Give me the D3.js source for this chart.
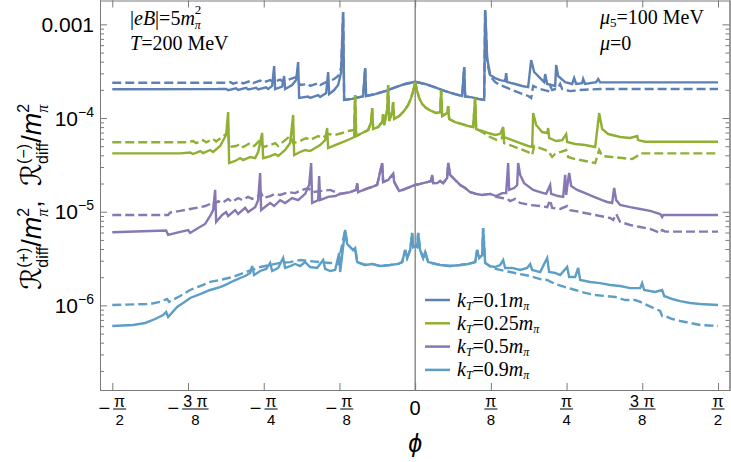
<!DOCTYPE html>
<html><head><meta charset="utf-8">
<script src="https://cdn.jsdelivr.net/npm/d3@7"></script>
<style>body{margin:0;background:#fff}svg{display:block}</style>
</head><body>
<svg id="c" width="731" height="462"></svg>
<script>
// ---------- data (phi in rad, value) ----------
const kt01SolidLeft=[[-1.571,2.03e-4],[-1.0218,2.04e-4],[-0.9803,2.05e-4],[-0.9700,1.98e-4],[-0.9285,2.08e-4],[-0.9181,2.00e-4],[-0.8766,2.10e-4],[-0.8662,2.02e-4],[-0.8247,2.10e-4],[-0.8144,2.02e-4],[-0.7729,2.13e-4],[-0.7625,2.04e-4],[-0.7417,2.20e-4],[-0.7314,3.59e-4],[-0.7262,2.04e-4],[-0.6899,2.17e-4],[-0.6795,2.81e-4],[-0.6743,2.04e-4],[-0.6380,2.25e-4],[-0.6173,2.54e-4],[-0.6069,3.96e-4],[-0.6017,1.64e-4],[-0.5550,1.70e-4],[-0.5446,1.64e-4],[-0.5031,1.76e-4],[-0.4928,1.68e-4],[-0.4616,1.85e-4],[-0.4513,3.10e-4],[-0.4461,1.80e-4],[-0.4201,1.99e-4],[-0.3994,2.25e-4],[-0.3838,3.10e-4]];
const kt01Center=[[-0.3735,1.35e-3],[-0.3683,1.56e-4],[-0.3268,1.60e-4],[-0.2957,1.66e-4],[-0.2697,1.70e-4],[-0.2594,3.42e-4],[-0.2542,1.72e-4],[-0.2075,1.80e-4],[-0.1556,1.94e-4],[-0.1037,2.12e-4],[-0.0519,2.31e-4],[0,2.44e-4],[0.0519,2.31e-4],[0.1037,2.12e-4],[0.1556,1.94e-4],[0.2075,1.80e-4],[0.2438,1.72e-4],[0.2542,3.50e-4],[0.2594,1.70e-4],[0.2957,1.66e-4],[0.3268,1.60e-4],[0.3579,1.56e-4],[0.3631,1.42e-3]];
const kt01SolidRight=[[0.3735,4.37e-4],[0.3890,2.88e-4],[0.4150,2.67e-4],[0.4409,2.54e-4],[0.4668,2.48e-4],[0.4720,3.02e-4],[0.4772,2.42e-4],[0.5187,2.31e-4],[0.5550,2.20e-4],[0.5861,2.14e-4],[0.6017,4.16e-4],[0.6173,3.10e-4],[0.6484,2.67e-4],[0.6691,2.42e-4],[0.6743,2.95e-4],[0.6847,2.31e-4],[0.7262,2.20e-4],[0.7314,3.68e-4],[0.7417,2.81e-4],[0.7781,2.42e-4],[0.8144,2.31e-4],[0.8247,2.67e-4],[0.8351,2.31e-4],[0.8662,2.36e-4],[0.8714,2.61e-4],[0.8818,2.31e-4],[0.9389,2.42e-4],[0.9492,2.61e-4],[0.9596,2.40e-4],[1.571,2.40e-4]];
const kt01DashedLeft=[[-1.571,2.38e-4],[-0.9907,2.38e-4],[-0.9596,2.42e-4],[-0.9440,2.33e-4],[-0.9077,2.45e-4],[-0.8922,2.34e-4],[-0.8559,2.48e-4],[-0.8403,2.36e-4],[-0.8040,2.51e-4],[-0.7884,2.39e-4],[-0.7521,2.54e-4],[-0.7366,2.42e-4],[-0.7002,2.57e-4],[-0.6847,2.45e-4],[-0.6484,2.61e-4],[-0.6173,2.74e-4],[-0.5965,2.25e-4],[-0.5550,2.31e-4],[-0.5446,2.20e-4],[-0.5031,2.36e-4],[-0.4928,2.25e-4],[-0.4513,2.48e-4],[-0.4201,2.61e-4],[-0.3994,2.81e-4],[-0.3838,3.42e-4]];
const kt01DashedRight=[[0.3735,3.96e-4],[0.3890,2.81e-4],[0.4150,2.42e-4],[0.4409,2.25e-4],[0.4928,2.04e-4],[0.5446,1.85e-4],[0.5861,1.72e-4],[0.6017,1.64e-4],[0.6121,2.20e-4],[0.6484,2.04e-4],[0.6899,1.94e-4],[0.7002,2.20e-4],[0.7106,1.99e-4],[0.7417,2.09e-4],[0.7521,2.31e-4],[0.7625,2.04e-4],[0.8040,1.94e-4],[0.8559,1.99e-4],[0.9077,2.02e-4],[0.9596,2.04e-4],[1.571,2.04e-4]];

const kt025SolidLeft=[[-1.571,4.20e-5],[-1.2189,4.20e-5],[-1.1671,4.28e-5],[-1.1515,4.13e-5],[-1.1152,4.44e-5],[-1.0996,4.23e-5],[-1.0633,4.56e-5],[-1.0478,4.34e-5],[-1.0115,5.03e-5],[-0.9803,6.59e-5],[-0.9700,1.16e-4],[-0.9648,3.31e-5],[-0.9337,3.48e-5],[-0.9077,3.74e-5],[-0.8922,3.56e-5],[-0.8559,3.84e-5],[-0.8299,3.74e-5],[-0.8144,4.34e-5],[-0.7936,6.92e-5],[-0.7884,3.74e-5],[-0.7521,3.93e-5],[-0.7262,4.13e-5],[-0.7106,3.93e-5],[-0.6743,4.56e-5],[-0.6484,5.41e-5],[-0.6328,1.08e-4],[-0.6276,4.03e-5],[-0.5965,4.34e-5],[-0.5706,4.56e-5],[-0.5446,4.44e-5],[-0.5187,4.78e-5],[-0.4928,5.15e-5],[-0.4668,5.82e-5],[-0.4565,7.82e-5],[-0.4513,4.78e-5],[-0.4150,5.15e-5],[-0.3890,5.41e-5],[-0.3631,5.68e-5],[-0.3372,5.97e-5],[-0.3164,6.27e-5]];
const kt025Center=[[-0.3112,1.76e-4],[-0.3060,6.43e-5],[-0.2749,6.92e-5],[-0.2438,7.45e-5],[-0.2282,9.06e-5],[-0.2230,1.28e-4],[-0.2179,7.63e-5],[-0.1919,8.02e-5],[-0.1712,9.06e-5],[-0.1660,1.10e-4],[-0.1608,8.42e-5],[-0.1452,1.22e-4],[-0.1400,2.25e-4],[-0.1349,9.29e-5],[-0.1193,1.16e-4],[-0.1141,1.48e-4],[-0.1089,9.76e-5],[-0.0830,1.05e-4],[-0.0571,1.19e-4],[-0.0363,1.38e-4],[-0.0207,1.64e-4],[-0.0104,1.94e-4],[0,2.44e-4],[0.0104,1.94e-4],[0.0207,1.64e-4],[0.0363,1.41e-4],[0.0571,1.28e-4],[0.0830,1.19e-4],[0.1089,1.13e-4],[0.1297,1.16e-4],[0.1349,1.99e-4],[0.1400,1.05e-4],[0.1660,1.13e-4],[0.1712,1.34e-4],[0.1763,9.76e-5],[0.2075,9.06e-5],[0.2438,8.63e-5],[0.2749,8.22e-5],[0.3008,8.02e-5],[0.3112,1.64e-4],[0.3164,7.63e-5]];
const kt025SolidRight=[[0.3475,7.27e-5],[0.3787,6.92e-5],[0.4150,6.59e-5],[0.4409,6.75e-5],[0.4565,8.02e-5],[0.4616,6.27e-5],[0.5031,5.82e-5],[0.5446,5.41e-5],[0.5861,5.03e-5],[0.6069,4.91e-5],[0.6121,1.13e-4],[0.6276,8.42e-5],[0.6587,7.09e-5],[0.6847,6.92e-5],[0.6899,7.82e-5],[0.6950,6.12e-5],[0.7314,5.68e-5],[0.7625,5.82e-5],[0.7833,6.75e-5],[0.7884,5.55e-5],[0.8299,5.28e-5],[0.8818,5.15e-5],[0.9337,4.91e-5],[0.9544,1.13e-4],[0.9700,7.63e-5],[1.0011,6.75e-5],[1.0633,6.27e-5],[1.1152,6.12e-5],[1.1515,6.43e-5],[1.1567,5.82e-5],[1.1930,5.59e-5],[1.571,5.59e-5]];
const kt025DashedLeft=[[-1.571,5.51e-5],[-1.1930,5.51e-5],[-1.1515,5.68e-5],[-1.1360,5.41e-5],[-1.0996,5.82e-5],[-1.0841,5.49e-5],[-1.0478,5.97e-5],[-1.0322,5.62e-5],[-1.0011,6.27e-5],[-0.9803,6.75e-5],[-0.9700,7.45e-5],[-0.9648,4.91e-5],[-0.9285,5.03e-5],[-0.9077,5.28e-5],[-0.8922,4.91e-5],[-0.8559,5.41e-5],[-0.8351,5.03e-5],[-0.8040,5.82e-5],[-0.7884,4.91e-5],[-0.7521,5.15e-5],[-0.7262,5.41e-5],[-0.7106,5.03e-5],[-0.6743,5.82e-5],[-0.6484,6.43e-5],[-0.6328,5.41e-5],[-0.5965,5.68e-5],[-0.5654,6.12e-5],[-0.5446,5.82e-5],[-0.5031,6.43e-5],[-0.4824,6.12e-5],[-0.4513,6.75e-5],[-0.4150,6.59e-5],[-0.3787,6.92e-5],[-0.3475,7.27e-5],[-0.3164,7.45e-5]];
const kt025DashedRight=[[0.3475,7.09e-5],[0.3890,6.27e-5],[0.4253,5.82e-5],[0.4513,6.12e-5],[0.4565,7.27e-5],[0.4616,5.41e-5],[0.5031,5.03e-5],[0.5446,4.67e-5],[0.5861,4.34e-5],[0.6069,4.03e-5],[0.6173,5.03e-5],[0.6484,4.78e-5],[0.6899,4.44e-5],[0.7106,3.84e-5],[0.7262,4.13e-5],[0.7521,4.34e-5],[0.7833,4.56e-5],[0.7936,3.84e-5],[0.8299,3.65e-5],[0.8818,3.48e-5],[0.9337,3.31e-5],[0.9544,4.56e-5],[0.9700,3.93e-5],[1.0218,3.84e-5],[1.0737,3.74e-5],[1.1256,3.65e-5],[1.1515,3.93e-5],[1.1671,4.20e-5],[1.571,4.20e-5]];

const kt05SolidLeft=[[-1.571,6.04e-6],[-1.2916,6.30e-6],[-1.2812,5.65e-6],[-1.2293,6.01e-6],[-1.1774,6.38e-6],[-1.1671,5.93e-6],[-1.1256,6.71e-6],[-1.0893,7.40e-6],[-1.0633,9.00e-6],[-1.0478,1.04e-5],[-1.0374,1.71e-5],[-1.0322,7.77e-6],[-1.0011,9.23e-6],[-0.9803,9.93e-6],[-0.9700,9.00e-6],[-0.9337,1.04e-5],[-0.9181,9.46e-6],[-0.8818,1.10e-5],[-0.8662,9.93e-6],[-0.8299,1.12e-5],[-0.8144,1.33e-5],[-0.8040,2.59e-5],[-0.7988,1.04e-5],[-0.7729,1.15e-5],[-0.7521,1.24e-5],[-0.7314,1.15e-5],[-0.7002,1.33e-5],[-0.6743,1.24e-5],[-0.6380,1.40e-5],[-0.6069,1.33e-5],[-0.5706,1.55e-5],[-0.5498,1.93e-5],[-0.5394,3.31e-5],[-0.5343,1.24e-5],[-0.5031,1.33e-5],[-0.4980,2.40e-5],[-0.4928,1.33e-5],[-0.4513,1.44e-5],[-0.4150,1.47e-5]];
const kt05Center=[[-0.3890,1.55e-5],[-0.3372,1.62e-5],[-0.3060,1.71e-5],[-0.3008,2.02e-5],[-0.2957,1.62e-5],[-0.2542,1.75e-5],[-0.2230,1.84e-5],[-0.1971,1.93e-5],[-0.1712,3.31e-5],[-0.1660,2.08e-5],[-0.1400,2.18e-5],[-0.1141,2.53e-5],[-0.1089,2.08e-5],[-0.0830,1.66e-5],[-0.0519,1.75e-5],[-0.0259,1.84e-5],[0,1.93e-5],[0.0259,1.98e-5],[0.0674,2.08e-5],[0.0830,2.13e-5],[0.0882,2.47e-5],[0.0934,2.02e-5],[0.1141,2.02e-5],[0.1297,2.13e-5],[0.1452,2.02e-5],[0.1660,2.29e-5],[0.1712,3.31e-5],[0.1815,2.47e-5],[0.2075,2.18e-5],[0.2334,1.93e-5],[0.2594,1.79e-5],[0.2853,1.62e-5],[0.3164,1.55e-5],[0.3475,1.51e-5],[0.3890,1.55e-5]];
const kt05SolidRight=[[0.4201,1.47e-5],[0.4513,1.58e-5],[0.4720,1.58e-5],[0.4824,3.31e-5],[0.4876,1.71e-5],[0.5135,1.79e-5],[0.5291,1.93e-5],[0.5343,3.31e-5],[0.5446,2.47e-5],[0.5654,2.02e-5],[0.6121,1.71e-5],[0.6484,1.62e-5],[0.6795,1.55e-5],[0.7002,1.93e-5],[0.7054,1.55e-5],[0.7417,1.47e-5],[0.7677,1.44e-5],[0.7781,2.47e-5],[0.7833,1.51e-5],[0.7936,2.18e-5],[0.7988,2.59e-5],[0.8092,1.88e-5],[0.8403,1.71e-5],[0.8818,1.58e-5],[0.9181,1.47e-5],[0.9440,1.40e-5],[0.9700,1.33e-5],[0.9959,1.27e-5],[1.0218,1.24e-5],[1.0322,1.79e-5],[1.0426,1.33e-5],[1.0633,1.18e-5],[1.1152,1.12e-5],[1.1671,1.07e-5],[1.2189,1.02e-5],[1.2708,9.46e-6],[1.2812,8.78e-6],[1.2864,9.23e-6],[1.571,9.23e-6]];
const kt05DashedLeft=[[-1.571,9.23e-6],[-1.2812,9.23e-6],[-1.2708,9.81e-6],[-1.2189,1.02e-5],[-1.1671,1.07e-5],[-1.1152,1.12e-5],[-1.0893,1.15e-5],[-1.0633,1.21e-5],[-1.0530,1.15e-5],[-1.0218,1.30e-5],[-1.0011,1.24e-5],[-0.9700,1.37e-5],[-0.9492,1.27e-5],[-0.9181,1.40e-5],[-0.8974,1.33e-5],[-0.8662,1.44e-5],[-0.8455,1.37e-5],[-0.8144,1.47e-5],[-0.7988,1.58e-5],[-0.7884,1.40e-5],[-0.7521,1.47e-5],[-0.7262,1.55e-5],[-0.7002,1.51e-5],[-0.6587,1.62e-5],[-0.6224,1.58e-5],[-0.5861,1.71e-5],[-0.5550,1.79e-5],[-0.5343,1.62e-5],[-0.4928,1.66e-5],[-0.4409,1.71e-5]];
const kt05DashedRight=[[0.4201,1.44e-5],[0.4513,1.40e-5],[0.4772,1.37e-5],[0.4928,1.30e-5],[0.5187,1.37e-5],[0.5446,1.24e-5],[0.5965,1.18e-5],[0.6484,1.15e-5],[0.6847,1.12e-5],[0.7002,1.33e-5],[0.7106,1.10e-5],[0.7521,1.07e-5],[0.7884,1.15e-5],[0.8040,1.04e-5],[0.8559,9.93e-6],[0.9077,9.46e-6],[0.9596,9.00e-6],[1.0115,8.57e-6],[1.0270,8.16e-6],[1.0426,9.46e-6],[1.0633,7.77e-6],[1.1152,7.22e-6],[1.1671,6.87e-6],[1.2189,6.54e-6],[1.2708,5.93e-6],[1.2812,6.38e-6],[1.2967,6.13e-6],[1.571,6.13e-6]];

const kt09SolidLeft=[[-1.571,6.03e-7],[-1.4627,6.18e-7],[-1.4005,6.49e-7],[-1.3486,7.16e-7],[-1.3071,7.90e-7],[-1.2916,8.51e-7],[-1.2812,7.52e-7],[-1.2345,9.62e-7],[-1.2034,1.06e-6],[-1.1671,1.20e-6],[-1.1152,1.32e-6],[-1.0633,1.46e-6],[-1.0115,1.57e-6],[-0.9752,1.69e-6],[-0.9440,1.82e-6],[-0.9077,1.96e-6],[-0.8818,2.06e-6],[-0.8559,2.22e-6],[-0.8455,2.63e-6],[-0.8351,2.11e-6],[-0.8040,2.33e-6],[-0.7729,2.45e-6],[-0.7521,2.84e-6],[-0.7417,2.33e-6],[-0.7106,2.51e-6],[-0.6847,3.21e-6],[-0.6743,2.51e-6],[-0.6484,2.63e-6],[-0.6224,2.77e-6],[-0.5965,2.63e-6],[-0.5706,2.90e-6],[-0.5446,2.57e-6],[-0.5083,2.51e-6],[-0.4772,3.05e-6],[-0.4668,2.45e-6],[-0.4409,2.33e-6],[-0.4150,2.39e-6],[-0.3942,3.62e-6],[-0.3890,2.27e-6]];
const kt09Center=[[-0.3631,6.38e-6],[-0.3527,4.52e-6],[-0.3372,4.20e-6],[-0.3216,3.90e-6],[-0.3112,4.10e-6],[-0.3008,2.90e-6],[-0.2594,2.70e-6],[-0.2230,2.77e-6],[-0.1815,2.63e-6],[-0.1297,2.70e-6],[-0.0882,2.77e-6],[-0.0674,2.90e-6],[-0.0519,3.90e-6],[-0.0415,3.21e-6],[-0.0259,3.90e-6],[-0.0156,5.93e-6],[-0.0104,4.20e-6],[0,4.31e-6],[0.0104,4.20e-6],[0.0156,5.93e-6],[0.0259,3.90e-6],[0.0415,3.21e-6],[0.0519,3.72e-6],[0.0674,2.90e-6],[0.1297,2.70e-6],[0.1815,2.63e-6],[0.2334,2.70e-6],[0.2749,2.77e-6],[0.3112,2.90e-6],[0.3216,3.90e-6],[0.3320,3.21e-6],[0.3475,3.45e-6],[0.3527,6.71e-6],[0.3631,2.84e-6]];
const kt09SolidRight=[[0.3890,2.63e-6],[0.4150,2.57e-6],[0.4409,2.70e-6],[0.4565,3.05e-6],[0.4668,2.51e-6],[0.5031,2.51e-6],[0.5446,2.39e-6],[0.5810,2.51e-6],[0.5965,2.77e-6],[0.6069,2.39e-6],[0.6484,2.27e-6],[0.6847,3.21e-6],[0.6950,2.27e-6],[0.7262,2.22e-6],[0.7521,2.11e-6],[0.7884,2.57e-6],[0.7988,2.01e-6],[0.8299,2.01e-6],[0.8455,2.51e-6],[0.8559,1.87e-6],[0.9077,1.78e-6],[0.9596,1.73e-6],[1.0115,1.65e-6],[1.0633,1.61e-6],[1.1152,1.53e-6],[1.1671,1.53e-6],[1.1774,1.73e-6],[1.1878,1.46e-6],[1.2449,1.39e-6],[1.2812,1.46e-6],[1.2916,1.26e-6],[1.3330,1.17e-6],[1.3746,1.11e-6],[1.4264,1.06e-6],[1.4783,1.035e-6],[1.571,1.01e-6]];
const kt09DashedLeft=[[-1.571,1.01e-6],[-1.3746,1.035e-6],[-1.3227,1.09e-6],[-1.2864,1.17e-6],[-1.2760,1.09e-6],[-1.2189,1.26e-6],[-1.1671,1.46e-6],[-1.1152,1.61e-6],[-1.0633,1.78e-6],[-1.0115,1.87e-6],[-0.9440,2.01e-6],[-0.8922,2.22e-6],[-0.8455,2.39e-6],[-0.8040,2.57e-6],[-0.7521,2.70e-6],[-0.7002,2.84e-6],[-0.6484,2.90e-6],[-0.5965,3.05e-6],[-0.5446,2.97e-6],[-0.4928,2.90e-6],[-0.4409,2.84e-6],[-0.3994,2.77e-6]];
const kt09DashedRight=[[0.3994,2.51e-6],[0.4409,2.39e-6],[0.4928,2.27e-6],[0.5446,2.16e-6],[0.5965,2.06e-6],[0.6484,1.91e-6],[0.6847,1.87e-6],[0.7262,1.69e-6],[0.7781,1.57e-6],[0.8299,1.46e-6],[0.8818,1.36e-6],[0.9337,1.29e-6],[0.9855,1.26e-6],[1.0374,1.23e-6],[1.0893,1.14e-6],[1.1411,1.14e-6],[1.1671,1.09e-6],[1.2345,9.39e-7],[1.2708,8.72e-7],[1.2812,7.71e-7],[1.2967,7.71e-7],[1.3330,7.16e-7],[1.3746,6.82e-7],[1.4264,6.49e-7],[1.4783,6.18e-7],[1.571,6.03e-7]];

const legendLabels=["0.1","0.25","0.5","0.9"];
const colors=["#5E81B5","#8FB032","#8778B3","#5D9EC7"];
const xTickValues=[-Math.PI/2,-3*Math.PI/8,-Math.PI/4,-Math.PI/8,0,Math.PI/8,Math.PI/4,3*Math.PI/8,Math.PI/2];
const xTickLabels=[["−","π","2"],["−","3 π","8"],["−","π","4"],["−","π","8"],["","0",""],["","π","8"],["","π","4"],["","3 π","8"],["","π","2"]];
const yMajorTicks=[1e-3,1e-4,1e-5,1e-6];
const yTickLabels=[["0.001",""],["10","−4"],["10","−5"],["10","−6"]];

const series=[
 {solid:[...kt01SolidLeft,...kt01Center,...kt01SolidRight],dashed:[...kt01DashedLeft,...kt01Center,...kt01DashedRight]},
 {solid:[...kt025SolidLeft,...kt025Center,...kt025SolidRight],dashed:[...kt025DashedLeft,...kt025Center,...kt025DashedRight]},
 {solid:[...kt05SolidLeft,...kt05Center,...kt05SolidRight],dashed:[...kt05DashedLeft,...kt05Center,...kt05DashedRight]},
 {solid:[...kt09SolidLeft,...kt09Center,...kt09SolidRight],dashed:[...kt09DashedLeft,...kt09Center,...kt09DashedRight]}
];

// ---------- layout ----------
const L=100,R=730,T=0,B=390;
const sans="'Liberation Sans', Arial, sans-serif";
const serif="'Liberation Serif', 'Times New Roman', serif";
const axisColor="#7a7a7a";
const svg=d3.select("#c");
const x=d3.scaleLinear().domain([-1.6346,1.6330]).range([L,R]);
const y=d3.scaleLog().domain([1.25e-7,1.82e-3]).range([B,T]);

function rich(parent,px,py,segs,anchor){
  const g=parent.append("g");
  let cx=0;
  segs.forEach(s=>{
    const items=s.stack||[s];
    let w=0;
    items.forEach(it=>{
      const el=g.append("text").attr("x",cx).attr("y",it.dy||0)
        .style("font-size",(it.fs||20)+"px").style("font-family",it.fam||serif)
        .style("font-style",it.it?"italic":"normal").attr("fill","#000").text(it.t);
      w=Math.max(w,el.node().getComputedTextLength());
    });
    cx+=w+(s.gap||0);
  });
  const shift=anchor==="middle"?-cx/2:anchor==="end"?-cx:0;
  g.attr("transform",`translate(${px+shift},${py})`);
  return g;
}

// clip
svg.append("defs").append("clipPath").attr("id","clip").append("rect")
  .attr("x",L).attr("y",T).attr("width",R-L).attr("height",B-T);

// zero line
svg.append("line").attr("x1",x(0)).attr("x2",x(0)).attr("y1",T).attr("y2",B)
  .attr("stroke","#555").attr("stroke-width",1);

// curves
const line=d3.line().x(d=>x(d[0])).y(d=>y(d[1]));
const gc=svg.append("g").attr("clip-path","url(#clip)");
series.forEach((s,i)=>{
  gc.append("path").attr("d",line(s.dashed)).attr("fill","none").attr("stroke",colors[i])
    .attr("stroke-width",2.4).attr("stroke-dasharray","9,4");
});
series.forEach((s,i)=>{
  gc.append("path").attr("d",line(s.solid)).attr("fill","none").attr("stroke",colors[i])
    .attr("stroke-width",2.4);
});

// axes
const minorTicks=y.ticks().filter(v=>!yMajorTicks.some(m=>Math.abs(m-v)/m<1e-6));
function styleAxis(g){g.selectAll("path,line").attr("stroke",axisColor).attr("stroke-width",1);g.selectAll("text").remove();}
svg.append("g").attr("transform",`translate(0,${B})`)
  .call(d3.axisBottom(x).tickValues(xTickValues).tickSizeInner(-7).tickSizeOuter(0).tickFormat("")).call(styleAxis);
svg.append("g").attr("transform",`translate(0,${T+0.5})`)
  .call(d3.axisTop(x).tickValues(xTickValues).tickSizeInner(-7).tickSizeOuter(0).tickFormat("")).call(styleAxis);
svg.append("g").attr("transform",`translate(${L},0)`)
  .call(d3.axisLeft(y).tickValues(yMajorTicks).tickSizeInner(-7).tickSizeOuter(0).tickFormat("")).call(styleAxis);
svg.append("g").attr("transform",`translate(${L},0)`)
  .call(d3.axisLeft(y).tickValues(minorTicks).tickSizeInner(-4).tickSizeOuter(0).tickFormat("")).call(styleAxis);
svg.append("g").attr("transform",`translate(${R-0.5},0)`)
  .call(d3.axisRight(y).tickValues(yMajorTicks).tickSizeInner(-7).tickSizeOuter(0).tickFormat("")).call(styleAxis);
svg.append("g").attr("transform",`translate(${R-0.5},0)`)
  .call(d3.axisRight(y).tickValues(minorTicks).tickSizeInner(-4).tickSizeOuter(0).tickFormat("")).call(styleAxis);

// x tick labels
xTickValues.forEach((v,i)=>{
  const [sg,num,den]=xTickLabels[i];
  const g=svg.append("g").attr("transform",`translate(${x(v)},${B})`);
  if(!den){
    g.append("text").attr("x",0).attr("y",25).attr("text-anchor","middle")
      .style("font-family",sans).style("font-size","20px").text(num);
    return;
  }
  const tn=g.append("text").attr("text-anchor","middle").attr("y",16.5)
    .style("font-family",sans).style("font-size","16px").text(num);
  const td=g.append("text").attr("text-anchor","middle").attr("y",35)
    .style("font-family",sans).style("font-size","15px").text(den);
  const wf=Math.max(tn.node().getComputedTextLength(),td.node().getComputedTextLength())+2;
  let wm=0,gap=0,tm=null;
  if(sg){
    tm=g.append("text").attr("y",24.5).style("font-family",sans).style("font-size","20px").text(sg);
    wm=tm.node().getComputedTextLength();gap=3;
  }
  const start=-(wm+gap+wf)/2;
  if(tm) tm.attr("x",start);
  const fc=start+wm+gap+wf/2;
  tn.attr("x",fc);td.attr("x",fc);
  g.append("line").attr("x1",fc-wf/2).attr("x2",fc+wf/2).attr("y1",19).attr("y2",19)
    .attr("stroke","#000").attr("stroke-width",1);
});

// y tick labels
yMajorTicks.forEach((v,i)=>{
  const [b,e]=yTickLabels[i];
  const segs=[{t:b,fs:21,fam:sans}];
  if(e) segs.push({t:e,fs:14,fam:sans,dy:-9});
  rich(svg,94,y(v)+7.5,segs,"end");
});

// axis titles
rich(svg,x(0),452,[{t:"ϕ",fs:25,it:1,fam:sans}],"middle");
const yl=svg.append("g").attr("transform","translate(41,197) rotate(-90)");
const part=(sgn)=>[
  {t:"ℛ",fs:28,fam:"'DejaVu Sans', 'DejaVu Serif', serif"},
  {stack:[{t:"("+sgn+")",fs:16,fam:sans,dy:-12},{t:"diff",fs:16,fam:sans,dy:7}]},
  {t:"/",fs:27,fam:sans},{t:"m",fs:27,it:1,fam:sans},
  {stack:[{t:"2",fs:16,fam:sans,dy:-12},{t:"π",fs:16,it:1,fam:serif,dy:7}]}
];
rich(yl,0,0,[...part("+"),{t:",",fs:27,fam:sans,gap:14},...part("−")],"middle");

// annotations
rich(svg,130,25,[{t:"|"},{t:"eB",it:1},{t:"|=5"},{t:"m",it:1},{stack:[{t:"2",fs:13,dy:-11},{t:"π",fs:12,it:1,dy:4}]}],"start");
rich(svg,130,50,[{t:"T",it:1},{t:"=200 MeV"}],"start");
rich(svg,600,24,[{t:"μ",it:1},{t:"5",fs:13,dy:3}, {t:"=100 MeV"}],"start");
rich(svg,600,50,[{t:"μ",it:1},{t:"=0"}],"start");

// legend
legendLabels.forEach((lab,i)=>{
  const ry=300+i*23.3;
  svg.append("line").attr("x1",425).attr("x2",450).attr("y1",ry).attr("y2",ry)
    .attr("stroke",colors[i]).attr("stroke-width",2.5);
  rich(svg,457,ry+6.5,[{t:"k",it:1},{t:"T",fs:12,it:1,dy:3},{t:"="+lab},{t:"m",it:1},{t:"π",fs:12,it:1,dy:3}],"start");
});
</script>
</body></html>
